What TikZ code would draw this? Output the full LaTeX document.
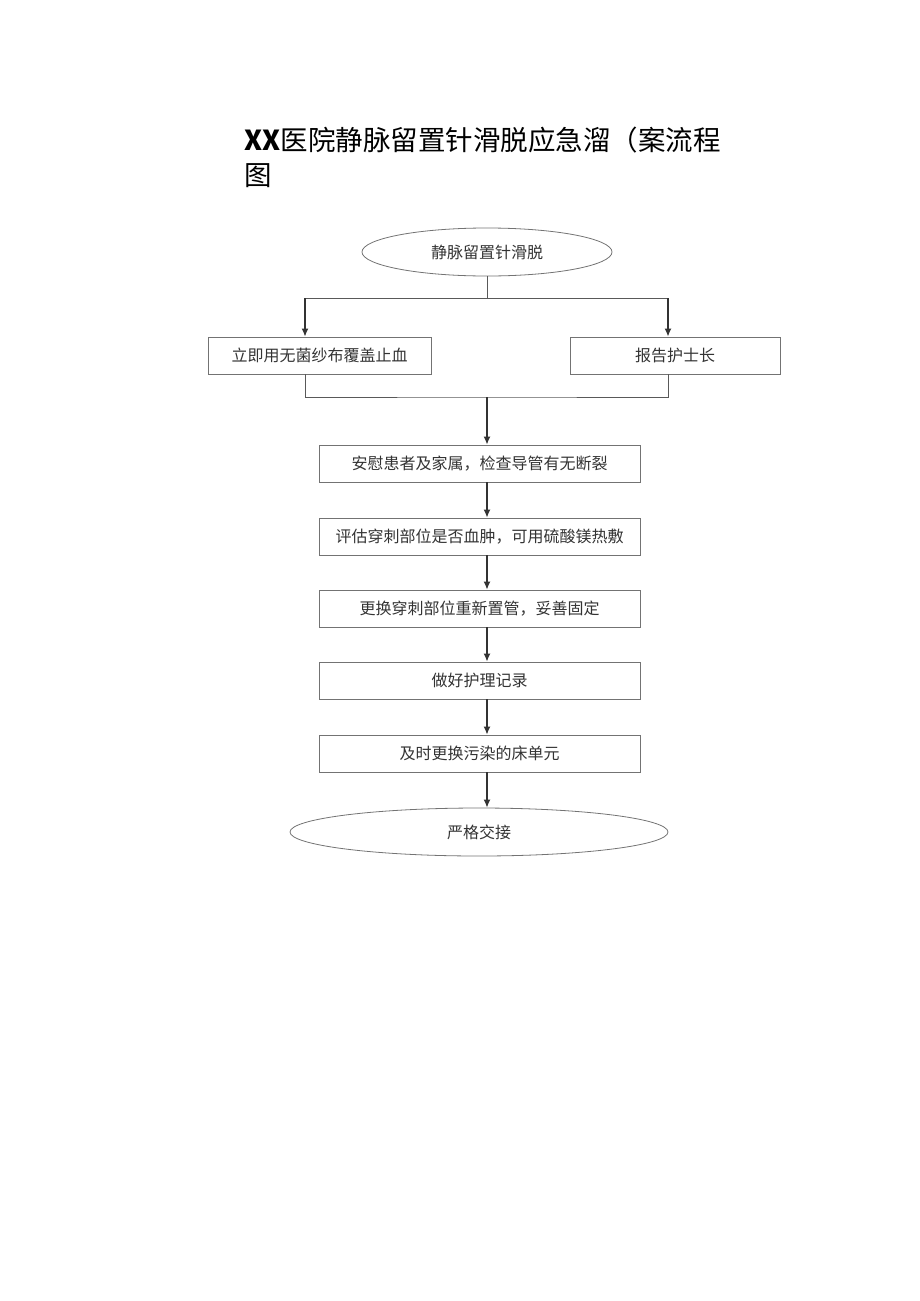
\documentclass[tikz,border=0pt]{standalone}
\usepackage{fontspec}
\setmainfont{Noto Sans CJK SC}
\usetikzlibrary{shapes.geometric,arrows.meta}

\tikzset{
  stepbox/.style={draw=black!55, line width=0.8pt, minimum height=37pt, inner sep=0pt, font=\fontsize{16}{18}\selectfont, text=black!80},
  oval/.style={ellipse, draw=black!55, line width=0.8pt, minimum height=48pt, inner sep=0pt, font=\fontsize{16}{18}\selectfont, text=black!80},
  link/.style={draw=black!65, line width=1pt},
  arr/.style={draw=black!80, line width=1.4pt, -{Latex[length=8pt,width=7pt]}}
}

\begin{document}
\begin{tikzpicture}[x=1pt,y=-1pt]
  \useasboundingbox (0,0) rectangle (920,1301);
  % title
  \node[anchor=west, font=\fontsize{27.5}{32}\selectfont] (title1) at (241,140) {\textbf{XX}医院静脉留置针滑脱应急溜（案流程};
  \node[anchor=west, font=\fontsize{27.5}{32}\selectfont] (title2) at (241,176) {图};
  % nodes
  \node[oval, minimum width=250pt] (slip) at (487,252) {静脉留置针滑脱};
  \node[stepbox, minimum width=223pt] (cover) at (319.5,355.5) {立即用无菌纱布覆盖止血};
  \node[stepbox, minimum width=210pt] (report) at (675,355.5) {报告护士长};
  \node[stepbox, minimum width=321pt] (calm) at (479.5,463.5) {安慰患者及家属，检查导管有无断裂};
  \node[stepbox, minimum width=321pt] (assess) at (479.5,536.5) {评估穿刺部位是否血肿，可用硫酸镁热敷};
  \node[stepbox, minimum width=321pt] (replace) at (479.5,608.5) {更换穿刺部位重新置管，妥善固定};
  \node[stepbox, minimum width=321pt] (record) at (479.5,680.5) {做好护理记录};
  \node[stepbox, minimum width=321pt] (linen) at (479.5,753.5) {及时更换污染的床单元};
  \node[oval, minimum width=378pt] (handover) at (479,832) {严格交接};
  % split and join
  \coordinate (split) at (487,298);
  \coordinate (join) at (487,397);
  \draw[link] (slip.south) -- (split);
  \draw[link] ([xshift=-14.5pt]cover.north |- split) -- ([xshift=-7pt]report.north |- split);
  \draw[arr] ([xshift=-14.5pt]cover.north |- split) -- ([xshift=-14.5pt]cover.north);
  \draw[arr] ([xshift=-7pt]report.north |- split) -- ([xshift=-7pt]report.north);
  \draw[link] ([xshift=-14.5pt]cover.south) |- (join) -| ([xshift=-7pt]report.south);
  \draw[arr] (join) -- (join |- calm.north);
  % chain
  \foreach \a/\b in {calm/assess, assess/replace, replace/record, record/linen, linen/handover}
    \draw[arr] ([xshift=7.5pt]\a.south) -- ([xshift=7.5pt]\a.south |- \b.north);
\end{tikzpicture}
\end{document}
